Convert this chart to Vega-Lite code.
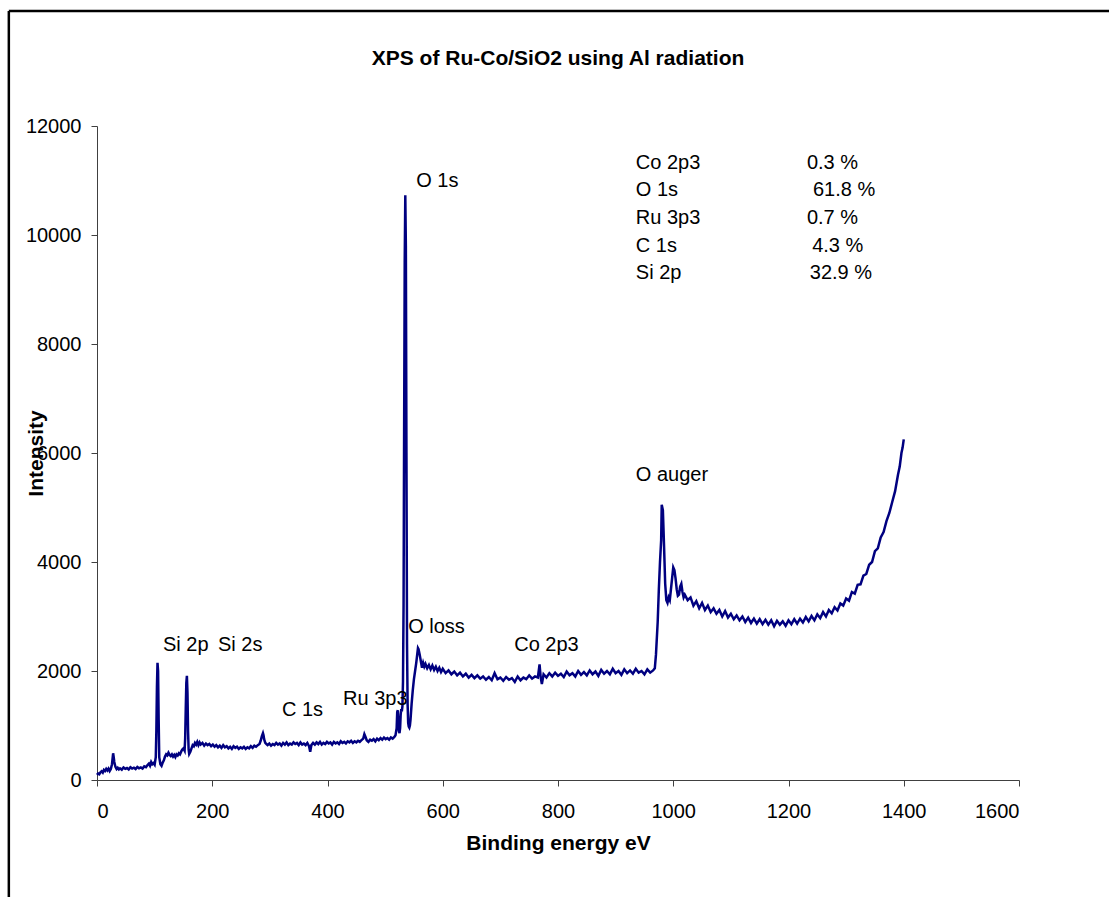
{
  "$schema": "https://vega.github.io/schema/vega-lite/v6.json",
  "width": 922,
  "height": 654,
  "autosize": {"type": "none"},
  "padding": {"left": 97, "top": 126, "right": 90, "bottom": 117},
  "background": "white",
  "title": {
    "text": "XPS of Ru-Co/SiO2 using Al radiation",
    "font": "Liberation Sans",
    "fontSize": 21,
    "fontWeight": "bold",
    "color": "black",
    "anchor": "middle",
    "frame": "group",
    "baseline": "middle",
    "offset": 0,
    "dy": 70
  },
  "config": {
    "view": {"stroke": null},
    "axis": {
      "grid": false,
      "domainColor": "#404040",
      "domainWidth": 1,
      "tickColor": "#404040",
      "tickSize": 6,
      "labelFont": "Liberation Sans",
      "labelFontSize": 20,
      "labelColor": "black",
      "format": "d",
      "titleFont": "Liberation Sans",
      "titleFontSize": 21,
      "titleFontWeight": "bold",
      "titleColor": "black"
    },
    "axisX": {"labelPadding": 15, "titleY": 63, "titleBaseline": "middle"},
    "axisY": {"labelPadding": 10, "titleX": -61, "titleY": 327, "titleBaseline": "middle"}
  },
  "datasets": {
    "spectrum": [
      {"E":0,"I":95},{"E":2,"I":120},{"E":4,"I":105},{"E":6,"I":140},{"E":8,"I":160},{"E":10,"I":135},{"E":12,"I":185},{"E":14,"I":165},{"E":16,"I":205},{"E":18,"I":175},{"E":20,"I":210},{"E":22,"I":165},{"E":24,"I":200},{"E":26,"I":290},{"E":28,"I":490},{"E":29,"I":420},{"E":30,"I":330},{"E":32,"I":240},{"E":34,"I":200},{"E":36,"I":225},{"E":38,"I":195},{"E":40,"I":215},{"E":43,"I":190},{"E":46,"I":230},{"E":49,"I":205},{"E":52,"I":220},{"E":55,"I":195},{"E":58,"I":235},{"E":61,"I":210},{"E":64,"I":225},{"E":67,"I":200},{"E":70,"I":240},{"E":73,"I":215},{"E":76,"I":230},{"E":79,"I":210},{"E":82,"I":250},{"E":85,"I":235},{"E":88,"I":280},{"E":90,"I":300},{"E":92,"I":260},{"E":94,"I":330},{"E":96,"I":290},{"E":98,"I":310},{"E":100,"I":280},{"E":102,"I":420},{"E":103,"I":900},{"E":104,"I":1700},{"E":105,"I":2150},{"E":106,"I":2000},{"E":107,"I":1100},{"E":108,"I":420},{"E":110,"I":290},{"E":112,"I":260},{"E":114,"I":320},{"E":116,"I":360},{"E":118,"I":430},{"E":120,"I":470},{"E":122,"I":450},{"E":124,"I":500},{"E":126,"I":460},{"E":128,"I":440},{"E":130,"I":470},{"E":132,"I":430},{"E":134,"I":460},{"E":136,"I":420},{"E":138,"I":470},{"E":140,"I":450},{"E":142,"I":490},{"E":144,"I":470},{"E":146,"I":520},{"E":148,"I":560},{"E":150,"I":580},{"E":152,"I":540},{"E":153,"I":760},{"E":154,"I":1300},{"E":155,"I":1780},{"E":156,"I":1910},{"E":157,"I":1600},{"E":158,"I":900},{"E":159,"I":560},{"E":160,"I":480},{"E":162,"I":520},{"E":164,"I":580},{"E":166,"I":640},{"E":168,"I":620},{"E":170,"I":680},{"E":172,"I":650},{"E":174,"I":700},{"E":176,"I":640},{"E":178,"I":690},{"E":180,"I":650},{"E":183,"I":680},{"E":186,"I":630},{"E":189,"I":670},{"E":192,"I":640},{"E":195,"I":660},{"E":198,"I":620},{"E":201,"I":650},{"E":204,"I":610},{"E":207,"I":640},{"E":210,"I":600},{"E":213,"I":630},{"E":216,"I":590},{"E":219,"I":640},{"E":222,"I":600},{"E":225,"I":620},{"E":228,"I":580},{"E":231,"I":610},{"E":234,"I":570},{"E":237,"I":620},{"E":240,"I":590},{"E":243,"I":610},{"E":246,"I":570},{"E":249,"I":600},{"E":252,"I":580},{"E":255,"I":610},{"E":258,"I":570},{"E":261,"I":600},{"E":264,"I":580},{"E":267,"I":620},{"E":270,"I":590},{"E":273,"I":630},{"E":276,"I":610},{"E":279,"I":640},{"E":282,"I":660},{"E":284,"I":720},{"E":286,"I":800},{"E":288,"I":860},{"E":289,"I":820},{"E":290,"I":750},{"E":292,"I":680},{"E":294,"I":660},{"E":296,"I":640},{"E":299,"I":670},{"E":302,"I":630},{"E":305,"I":660},{"E":308,"I":640},{"E":311,"I":680},{"E":314,"I":650},{"E":317,"I":670},{"E":320,"I":630},{"E":323,"I":680},{"E":326,"I":650},{"E":329,"I":690},{"E":332,"I":640},{"E":335,"I":670},{"E":338,"I":650},{"E":341,"I":690},{"E":344,"I":660},{"E":347,"I":680},{"E":350,"I":640},{"E":353,"I":690},{"E":356,"I":650},{"E":359,"I":670},{"E":362,"I":640},{"E":365,"I":680},{"E":368,"I":620},{"E":370,"I":520},{"E":372,"I":640},{"E":375,"I":680},{"E":378,"I":650},{"E":381,"I":690},{"E":384,"I":660},{"E":387,"I":700},{"E":390,"I":650},{"E":393,"I":680},{"E":396,"I":660},{"E":399,"I":700},{"E":402,"I":670},{"E":405,"I":690},{"E":408,"I":650},{"E":411,"I":700},{"E":414,"I":670},{"E":417,"I":690},{"E":420,"I":660},{"E":423,"I":710},{"E":426,"I":680},{"E":429,"I":700},{"E":432,"I":670},{"E":435,"I":710},{"E":438,"I":690},{"E":441,"I":720},{"E":444,"I":680},{"E":447,"I":710},{"E":450,"I":690},{"E":453,"I":720},{"E":456,"I":700},{"E":459,"I":730},{"E":462,"I":760},{"E":464,"I":840},{"E":466,"I":790},{"E":468,"I":730},{"E":471,"I":700},{"E":474,"I":740},{"E":477,"I":720},{"E":480,"I":750},{"E":483,"I":710},{"E":486,"I":760},{"E":489,"I":730},{"E":492,"I":770},{"E":495,"I":740},{"E":498,"I":780},{"E":501,"I":750},{"E":504,"I":770},{"E":507,"I":740},{"E":510,"I":780},{"E":513,"I":760},{"E":516,"I":790},{"E":518,"I":820},{"E":520,"I":950},{"E":521,"I":1250},{"E":522,"I":1280},{"E":523,"I":1050},{"E":524,"I":900},{"E":525,"I":860},{"E":526,"I":950},{"E":527,"I":1200},{"E":528,"I":1300},{"E":529,"I":1260},{"E":530,"I":1350},{"E":531,"I":1800},{"E":532,"I":3200},{"E":533,"I":6500},{"E":534,"I":9500},{"E":535,"I":10730},{"E":536,"I":9800},{"E":537,"I":6000},{"E":538,"I":2500},{"E":539,"I":1400},{"E":540,"I":1050},{"E":541,"I":980},{"E":542,"I":960},{"E":543,"I":1000},{"E":544,"I":1100},{"E":545,"I":1250},{"E":546,"I":1400},{"E":548,"I":1650},{"E":550,"I":1850},{"E":552,"I":2000},{"E":554,"I":2150},{"E":556,"I":2330},{"E":557,"I":2420},{"E":558,"I":2400},{"E":560,"I":2300},{"E":562,"I":2180},{"E":564,"I":2060},{"E":566,"I":2150},{"E":568,"I":2080},{"E":570,"I":2130},{"E":573,"I":2050},{"E":576,"I":2110},{"E":579,"I":2030},{"E":582,"I":2100},{"E":585,"I":2020},{"E":588,"I":2080},{"E":591,"I":2000},{"E":594,"I":2060},{"E":597,"I":1980},{"E":600,"I":2040},
      {"E":605,"I":1960},{"E":610,"I":2010},{"E":615,"I":1940},{"E":620,"I":1990},{"E":625,"I":1920},{"E":630,"I":1970},{"E":635,"I":1900},{"E":640,"I":1950},{"E":645,"I":1880},{"E":650,"I":1930},{"E":655,"I":1870},{"E":660,"I":1920},{"E":665,"I":1860},{"E":670,"I":1900},{"E":675,"I":1840},{"E":680,"I":1890},{"E":685,"I":1830},{"E":690,"I":1960},{"E":695,"I":1850},{"E":700,"I":1880},{"E":705,"I":1820},{"E":710,"I":1890},{"E":715,"I":1840},{"E":720,"I":1870},{"E":725,"I":1800},{"E":730,"I":1900},{"E":735,"I":1830},{"E":740,"I":1880},{"E":745,"I":1850},{"E":750,"I":1920},{"E":755,"I":1860},{"E":760,"I":1900},{"E":765,"I":1880},{"E":768,"I":2120},{"E":770,"I":1880},{"E":772,"I":1760},{"E":775,"I":1940},{"E":780,"I":1880},{"E":785,"I":1960},{"E":790,"I":1900},{"E":795,"I":1970},{"E":800,"I":1910},{"E":805,"I":1950},{"E":810,"I":1890},{"E":815,"I":1990},{"E":820,"I":1920},{"E":825,"I":1960},{"E":830,"I":1900},{"E":835,"I":2000},{"E":840,"I":1930},{"E":845,"I":1980},{"E":850,"I":1920},{"E":855,"I":2010},{"E":860,"I":1940},{"E":865,"I":1990},{"E":870,"I":1910},{"E":875,"I":2020},{"E":880,"I":1950},{"E":885,"I":2000},{"E":890,"I":1940},{"E":895,"I":2040},{"E":900,"I":1960},{"E":905,"I":2000},{"E":910,"I":1930},{"E":915,"I":2030},{"E":920,"I":1960},{"E":925,"I":2010},{"E":930,"I":1950},{"E":935,"I":2040},{"E":940,"I":1970},{"E":945,"I":2000},{"E":950,"I":1940},{"E":955,"I":2030},{"E":960,"I":1970},{"E":965,"I":2010},{"E":968,"I":2050},{"E":970,"I":2300},{"E":973,"I":2900},{"E":975,"I":3500},{"E":977,"I":4000},{"E":979,"I":4400},{"E":980,"I":5050},{"E":982,"I":4950},{"E":984,"I":4300},{"E":986,"I":3600},{"E":988,"I":3300},{"E":990,"I":3250},{"E":992,"I":3350},{"E":994,"I":3300},{"E":996,"I":3500},{"E":998,"I":3700},{"E":1000,"I":3900},{"E":1002,"I":3850},{"E":1004,"I":3700},{"E":1006,"I":3500},{"E":1008,"I":3380},{"E":1010,"I":3400},{"E":1012,"I":3550},{"E":1014,"I":3600},{"E":1016,"I":3450},{"E":1018,"I":3350},{"E":1020,"I":3400},{"E":1025,"I":3300},{"E":1030,"I":3350},{"E":1035,"I":3200},{"E":1040,"I":3280},{"E":1045,"I":3150},{"E":1050,"I":3250},{"E":1055,"I":3120},{"E":1060,"I":3200},{"E":1065,"I":3080},{"E":1070,"I":3150},{"E":1075,"I":3050},{"E":1080,"I":3120},{"E":1085,"I":3000},{"E":1090,"I":3100},{"E":1095,"I":2980},{"E":1100,"I":3050},{"E":1105,"I":2950},{"E":1110,"I":3020},{"E":1115,"I":2930},{"E":1120,"I":3000},{"E":1125,"I":2900},{"E":1130,"I":2980},{"E":1135,"I":2880},{"E":1140,"I":2960},{"E":1145,"I":2870},{"E":1150,"I":2950},{"E":1155,"I":2860},{"E":1160,"I":2940},{"E":1165,"I":2850},{"E":1170,"I":2930},{"E":1175,"I":2820},{"E":1180,"I":2920},{"E":1185,"I":2850},{"E":1190,"I":2910},{"E":1195,"I":2830},{"E":1200,"I":2930},{"E":1205,"I":2860},{"E":1210,"I":2950},{"E":1215,"I":2870},{"E":1220,"I":2960},{"E":1225,"I":2890},{"E":1230,"I":2990},{"E":1235,"I":2910},{"E":1240,"I":3010},{"E":1245,"I":2930},{"E":1250,"I":3040},{"E":1255,"I":2970},{"E":1260,"I":3080},{"E":1265,"I":3000},{"E":1270,"I":3120},{"E":1275,"I":3060},{"E":1280,"I":3170},{"E":1285,"I":3110},{"E":1290,"I":3240},{"E":1295,"I":3200},{"E":1300,"I":3330},{"E":1305,"I":3290},{"E":1310,"I":3450},{"E":1315,"I":3420},{"E":1320,"I":3580},{"E":1325,"I":3590},{"E":1330,"I":3750},{"E":1335,"I":3780},{"E":1340,"I":3950},{"E":1345,"I":4000},{"E":1350,"I":4200},{"E":1355,"I":4250},{"E":1360,"I":4450},{"E":1365,"I":4550},{"E":1370,"I":4750},{"E":1375,"I":4900},{"E":1380,"I":5100},{"E":1385,"I":5300},{"E":1390,"I":5600},{"E":1393,"I":5750},{"E":1396,"I":6000},{"E":1398,"I":6100},{"E":1400,"I":6250}
    ],
    "notes": [
      {"label": "O 1s", "E": 554, "I": 11000},
      {"label": "Si 2p", "E": 114.5, "I": 2480},
      {"label": "Si 2s", "E": 210, "I": 2480},
      {"label": "C 1s", "E": 321, "I": 1284},
      {"label": "Ru 3p3", "E": 427, "I": 1486},
      {"label": "O loss", "E": 540, "I": 2807},
      {"label": "Co 2p3", "E": 724, "I": 2480},
      {"label": "O auger", "E": 935, "I": 5600},
      {"label": "Co 2p3", "E": 935, "I": 11321},
      {"label": "O 1s", "E": 935, "I": 10826},
      {"label": "Ru 3p3", "E": 935, "I": 10312},
      {"label": "C 1s", "E": 935, "I": 9798},
      {"label": "Si 2p", "E": 935, "I": 9303},
      {"label": "0.3 %", "E": 1232, "I": 11321},
      {"label": "61.8 %", "E": 1242.5, "I": 10826},
      {"label": "0.7 %", "E": 1232, "I": 10312},
      {"label": "4.3 %", "E": 1241, "I": 9798},
      {"label": "32.9 %", "E": 1237, "I": 9303}
    ]
  },
  "layer": [
    {
      "data": {"name": "spectrum"},
      "mark": {"type": "line", "color": "#000080", "strokeWidth": 2.5},
      "encoding": {
        "x": {"field": "E", "type": "quantitative", "title": "Binding energy eV",
              "scale": {"domain": [0, 1600], "nice": false},
              "axis": {"values": [0, 200, 400, 600, 800, 1000, 1200, 1400, 1600]}},
        "y": {"field": "I", "type": "quantitative", "title": "Intensity",
              "scale": {"domain": [0, 12000], "nice": false},
              "axis": {"values": [0, 2000, 4000, 6000, 8000, 10000, 12000]}}
      }
    },
    {
      "data": {"name": "notes"},
      "mark": {"type": "text", "align": "left", "baseline": "middle", "font": "Liberation Sans", "fontSize": 20, "color": "black"},
      "encoding": {
        "x": {"field": "E", "type": "quantitative", "scale": {"domain": [0, 1600], "nice": false}},
        "y": {"field": "I", "type": "quantitative", "scale": {"domain": [0, 12000], "nice": false}},
        "text": {"field": "label"}
      }
    },
    {
      "data": {"values": [{}]},
      "mark": {"type": "rule", "color": "black", "strokeWidth": 2.5},
      "encoding": {
        "x": {"datum": -153, "type": "quantitative", "scale": {"domain": [0, 1600], "nice": false}},
        "x2": {"datum": 1800},
        "y": {"datum": 14110, "type": "quantitative", "scale": {"domain": [0, 12000], "nice": false}}
      }
    },
    {
      "data": {"values": [{}]},
      "mark": {"type": "rule", "color": "black", "strokeWidth": 2.5},
      "encoding": {
        "x": {"datum": -153, "type": "quantitative", "scale": {"domain": [0, 1600], "nice": false}},
        "y": {"datum": 14110, "type": "quantitative", "scale": {"domain": [0, 12000], "nice": false}},
        "y2": {"datum": -2300}
      }
    }
  ]
}
